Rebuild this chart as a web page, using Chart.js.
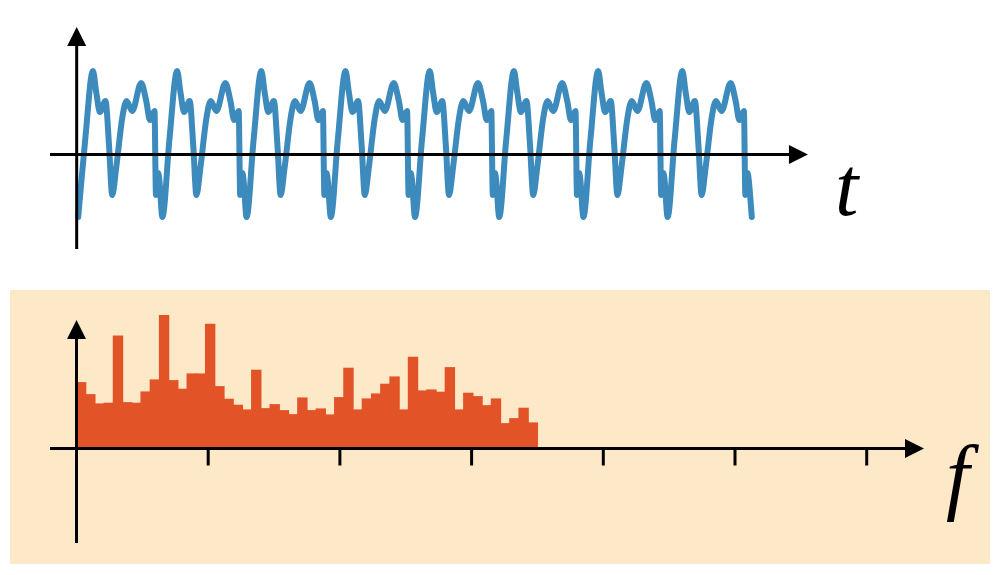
<!DOCTYPE html>
<html>
<head>
<meta charset="utf-8">
<script src="https://cdn.jsdelivr.net/npm/chart.js@4.4.1/dist/chart.umd.min.js"></script>
<style>
  html, body { margin: 0; padding: 0; background: #ffffff; }
  body { width: 1000px; height: 575px; position: relative; overflow: hidden; }
  #topWrap { position: absolute; left: 0; top: 0; width: 1000px; height: 280px; }
  #botWrap { position: absolute; left: 10px; top: 290px; width: 980px; height: 274px; background: #fde9c8; }
</style>
</head>
<body>
<div id="topWrap"><canvas id="timeChart" width="1000" height="280"></canvas></div>
<div id="botWrap"><canvas id="freqChart" width="980" height="274"></canvas></div>
<script>
// ---------------- DATA ----------------
// time-domain signal (t in periods)
const timeT = [
  0.000, 0.083, 0.175, 0.214, 0.258, 0.324, 0.366, 0.404, 0.451, 0.523, 0.574, 0.641, 0.748, 0.808, 0.852, 0.906, 0.924, 0.950, 0.964,
  1.000, 1.083, 1.175, 1.214, 1.258, 1.324, 1.366, 1.404, 1.451, 1.523, 1.574, 1.641, 1.748, 1.808, 1.852, 1.906, 1.924, 1.950, 1.964,
  2.000, 2.083, 2.175, 2.214, 2.258, 2.324, 2.366, 2.404, 2.451, 2.523, 2.574, 2.641, 2.748, 2.808, 2.852, 2.906, 2.924, 2.950, 2.964,
  3.000, 3.083, 3.175, 3.214, 3.258, 3.324, 3.366, 3.404, 3.451, 3.523, 3.574, 3.641, 3.748, 3.808, 3.852, 3.906, 3.924, 3.950, 3.964,
  4.000, 4.083, 4.175, 4.214, 4.258, 4.324, 4.366, 4.404, 4.451, 4.523, 4.574, 4.641, 4.748, 4.808, 4.852, 4.906, 4.924, 4.950, 4.964,
  5.000, 5.083, 5.175, 5.214, 5.258, 5.324, 5.366, 5.404, 5.451, 5.523, 5.574, 5.641, 5.748, 5.808, 5.852, 5.906, 5.924, 5.950, 5.964,
  6.000, 6.083, 6.175, 6.214, 6.258, 6.324, 6.366, 6.404, 6.451, 6.523, 6.574, 6.641, 6.748, 6.808, 6.852, 6.906, 6.924, 6.950, 6.964,
  7.000, 7.083, 7.175, 7.214, 7.258, 7.324, 7.366, 7.404, 7.451, 7.523, 7.574, 7.641, 7.748, 7.808, 7.852, 7.906, 7.924, 7.950, 7.964,
  8.000
];
const signal = [
  -0.625, 0.145, 0.835, 0.625, 0.425, 0.535, 0.095, -0.405, -0.135, 0.365, 0.535, 0.435, 0.715, 0.535, 0.345, 0.435, -0.405, -0.185, -0.255,
  -0.625, 0.145, 0.835, 0.625, 0.425, 0.535, 0.095, -0.405, -0.135, 0.365, 0.535, 0.435, 0.715, 0.535, 0.345, 0.435, -0.405, -0.185, -0.255,
  -0.625, 0.145, 0.835, 0.625, 0.425, 0.535, 0.095, -0.405, -0.135, 0.365, 0.535, 0.435, 0.715, 0.535, 0.345, 0.435, -0.405, -0.185, -0.255,
  -0.625, 0.145, 0.835, 0.625, 0.425, 0.535, 0.095, -0.405, -0.135, 0.365, 0.535, 0.435, 0.715, 0.535, 0.345, 0.435, -0.405, -0.185, -0.255,
  -0.625, 0.145, 0.835, 0.625, 0.425, 0.535, 0.095, -0.405, -0.135, 0.365, 0.535, 0.435, 0.715, 0.535, 0.345, 0.435, -0.405, -0.185, -0.255,
  -0.625, 0.145, 0.835, 0.625, 0.425, 0.535, 0.095, -0.405, -0.135, 0.365, 0.535, 0.435, 0.715, 0.535, 0.345, 0.435, -0.405, -0.185, -0.255,
  -0.625, 0.145, 0.835, 0.625, 0.425, 0.535, 0.095, -0.405, -0.135, 0.365, 0.535, 0.435, 0.715, 0.535, 0.345, 0.435, -0.405, -0.185, -0.255,
  -0.625, 0.145, 0.835, 0.625, 0.425, 0.535, 0.095, -0.405, -0.135, 0.365, 0.535, 0.435, 0.715, 0.535, 0.345, 0.435, -0.405, -0.185, -0.255,
  -0.625
];

// spectrum: bin centres and magnitudes
const freqBins = [
  0.035, 0.105, 0.175, 0.245, 0.315, 0.385, 0.455, 0.525, 0.595, 0.665,
  0.735, 0.805, 0.875, 0.945, 1.015, 1.085, 1.155, 1.225, 1.295, 1.365,
  1.435, 1.505, 1.575, 1.645, 1.715, 1.785, 1.855, 1.925, 1.995, 2.065,
  2.135, 2.205, 2.275, 2.345, 2.415, 2.485, 2.555, 2.625, 2.695, 2.765,
  2.835, 2.905, 2.975, 3.045, 3.115, 3.185, 3.255, 3.325, 3.395, 3.465
];
const spectrum = [
  0.658, 0.538, 0.445, 0.452, 1.125, 0.458, 0.452, 0.565, 0.685, 1.328,
  0.678, 0.592, 0.745, 0.745, 1.242, 0.618, 0.492, 0.432, 0.385, 0.782,
  0.398, 0.438, 0.378, 0.338, 0.505, 0.378, 0.395, 0.335, 0.508, 0.802,
  0.385, 0.495, 0.545, 0.642, 0.715, 0.385, 0.912, 0.575, 0.585, 0.562,
  0.808, 0.385, 0.552, 0.518, 0.428, 0.495, 0.248, 0.298, 0.402, 0.255
];
const freqTicks = [1, 2, 3, 4, 5, 6];

// ---------------- STYLE / LAYOUT ----------------
const AXIS_COLOR = '#000000';
const AXIS_W = 3;
const ARROW_LEN = 19;
const ARROW_HALF = 9.5;

function arrowAxesPlugin(cfg) {
  return {
    id: 'arrowAxes_' + cfg.name,
    afterDatasetsDraw(chart) {
      const ctx = chart.ctx;
      const xs = chart.scales.x, ys = chart.scales.y;
      const ox = xs.getPixelForValue(cfg.originX);
      const oy = ys.getPixelForValue(0);
      const xL = xs.getPixelForValue(cfg.xFrom), xR = xs.getPixelForValue(cfg.xTo);
      const yB = ys.getPixelForValue(cfg.yFrom), yT = ys.getPixelForValue(cfg.yTo);
      ctx.save();
      ctx.strokeStyle = AXIS_COLOR;
      ctx.fillStyle = AXIS_COLOR;
      ctx.lineWidth = AXIS_W;
      ctx.lineCap = 'butt';
      ctx.beginPath();
      ctx.moveTo(xL, oy); ctx.lineTo(xR - ARROW_LEN + 1, oy); ctx.stroke();
      ctx.beginPath();
      ctx.moveTo(xR, oy); ctx.lineTo(xR - ARROW_LEN, oy - ARROW_HALF); ctx.lineTo(xR - ARROW_LEN, oy + ARROW_HALF); ctx.closePath(); ctx.fill();
      ctx.beginPath();
      ctx.moveTo(ox, yB); ctx.lineTo(ox, yT + ARROW_LEN - 1); ctx.stroke();
      ctx.beginPath();
      ctx.moveTo(ox, yT); ctx.lineTo(ox - ARROW_HALF, yT + ARROW_LEN); ctx.lineTo(ox + ARROW_HALF, yT + ARROW_LEN); ctx.closePath(); ctx.fill();
      if (cfg.ticks) {
        cfg.ticks.forEach(v => {
          const px = xs.getPixelForValue(v);
          ctx.beginPath(); ctx.moveTo(px, oy); ctx.lineTo(px, oy + cfg.tickLen); ctx.stroke();
        });
      }
      ctx.font = 'italic ' + cfg.labelSize + 'px "Liberation Serif", "DejaVu Serif", serif';
      ctx.textAlign = 'left';
      ctx.textBaseline = 'alphabetic';
      ctx.fillText(cfg.label, cfg.labelX, cfg.labelY);
      ctx.restore();
    }
  };
}

Chart.defaults.animation = false;

// ---------------- TOP: TIME SIGNAL ----------------
new Chart(document.getElementById('timeChart'), {
  type: 'line',
  data: {
    datasets: [{
      data: timeT.map((t, i) => ({ x: t, y: signal[i] })),
      borderColor: '#3d8bbd',
      borderWidth: 6,
      pointRadius: 0,
      cubicInterpolationMode: 'monotone',
      borderJoinStyle: 'round',
      borderCapStyle: 'round',
      fill: false
    }]
  },
  options: {
    responsive: false,
    animation: false,
    layout: { padding: 0 },
    plugins: { legend: { display: false }, tooltip: { enabled: false } },
    scales: {
      x: { type: 'linear', display: false, min: -0.9287, max: 10.9477 },
      y: { type: 'linear', display: false, min: -1.255, max: 1.545 }
    }
  },
  plugins: [arrowAxesPlugin({
    name: 'top', originX: -0.018, xFrom: -0.335, xTo: 8.667, yFrom: -0.945, yTo: 1.275,
    label: 't', labelSize: 84, labelX: 835, labelY: 215
  })]
});

// ---------------- BOTTOM: SPECTRUM ----------------
new Chart(document.getElementById('freqChart'), {
  type: 'bar',
  data: {
    datasets: [{
      data: freqBins.map((f, i) => ({ x: f, y: spectrum[i] })),
      backgroundColor: '#e25427',
      borderWidth: 0,
      inflateAmount: 0.6,
      barPercentage: 1.0,
      categoryPercentage: 1.0
    }]
  },
  options: {
    responsive: false,
    animation: false,
    layout: { padding: 0 },
    plugins: { legend: { display: false }, tooltip: { enabled: false } },
    scales: {
      x: { type: 'linear', display: false, min: -0.5049, max: 6.9362, offset: false },
      y: { type: 'linear', display: false, min: -1.155, max: 1.585 }
    }
  },
  plugins: [arrowAxesPlugin({
    name: 'bot', originX: 0, xFrom: -0.201, xTo: 6.435, yFrom: -0.945, yTo: 1.285,
    ticks: freqTicks, tickLen: 17,
    label: 'f', labelSize: 84, labelX: 936, labelY: 214
  })]
});
</script>
</body>
</html>
